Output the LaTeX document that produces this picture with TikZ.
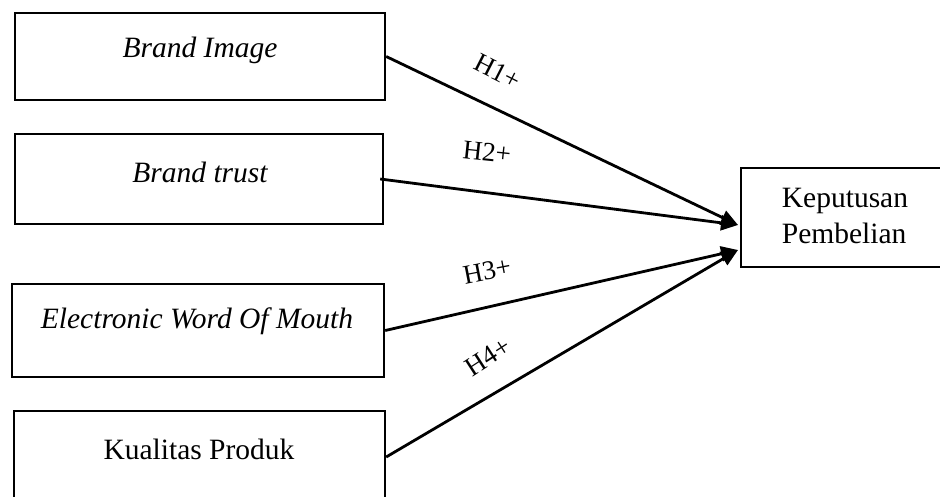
\documentclass[tikz,border=0pt]{standalone}
\usepackage{fontspec}
\setmainfont{Liberation Serif}
\usetikzlibrary{arrows.meta}
\begin{document}
\begin{tikzpicture}[x=1pt,y=-1pt,
  box/.style={draw=black, line width=2.4pt, rectangle, inner sep=0pt},
  txt/.style={inner sep=0pt, font=\fontsize{29.5}{36}\selectfont},
  hyp/.style={inner sep=0pt, font=\fontsize{27}{32}\selectfont},
  link/.style={line width=2.8pt, -{Triangle[length=17pt,width=15pt]}}]
\clip (0,0) rectangle (940,497);
\fill[white] (0,0) rectangle (940,497);
% boxes
\node[box, minimum width=370pt, minimum height=87pt] (b1) at (200,56.5) {};
\node[box, minimum width=368pt, minimum height=90pt] (b2) at (199,179) {};
\node[box, minimum width=372pt, minimum height=93pt] (b3) at (198,330.5) {};
\node[box, minimum width=371pt, minimum height=92pt] (b4) at (199.5,457) {};
\node[box, minimum width=220pt, minimum height=99pt] (b5) at (851,217.5) {};
% texts
\node[txt] (t1) at (200,50) {\itshape Brand Image};
\node[txt] (t2) at (200,172) {\itshape Brand trust};
\node[txt] (t3) at (197,321) {\itshape Electronic Word Of Mouth};
\node[txt] (t4) at (199,449) {Kualitas Produk};
\node[txt, align=left] (t5) at (845,216) {Keputusan\\Pembelian};
% arrow targets
\coordinate (p1) at (738,225);
\coordinate (p2) at (738,250);
% connectors
\draw[link] (b1.east) -- (p1);
\draw[link] ([xshift=-4pt]b2.east) -- (p1);
\draw[link] (b3.east) -- (p2);
\draw[link] (b4.east) -- (p2);
% hypothesis labels
\node[hyp, rotate=-27] (h1) at (498,72) {H1+};
\node[hyp, rotate=-6] (h2) at (487,152) {H2+};
\node[hyp, rotate=11] (h3) at (487,271) {H3+};
\node[hyp, rotate=33] (h4) at (488,357) {H4+};
\end{tikzpicture}
\end{document}
